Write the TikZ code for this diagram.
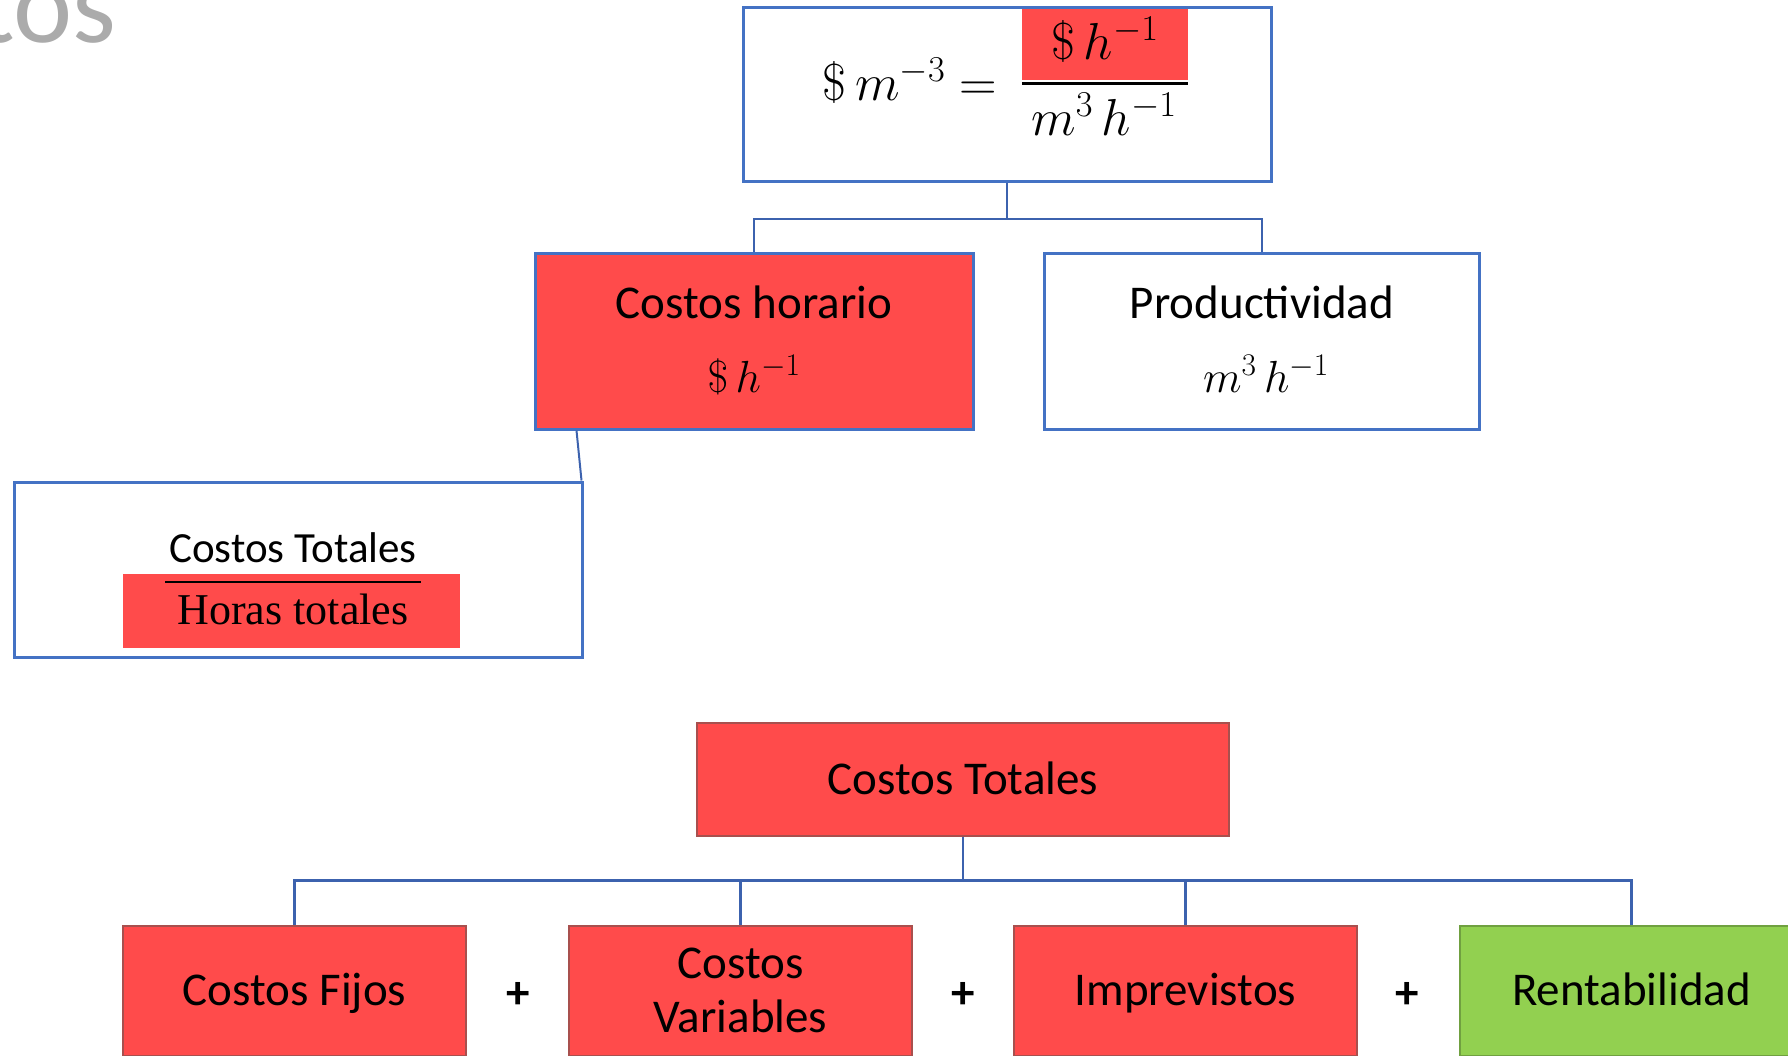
\RequirePackage{fix-cm}
\documentclass[tikz,border=0pt]{standalone}
\usepackage{fontspec}
\setmainfont{Carlito}
\newfontfamily\serifface{Liberation Serif}
\usetikzlibrary{calc}

\definecolor{boxblue}{HTML}{4472C4}
\definecolor{linkblue}{HTML}{3C62AE}
\definecolor{hotred}{HTML}{FF4B4B}
\definecolor{rededge}{HTML}{A8504E}
\definecolor{leafgreen}{HTML}{92D050}
\definecolor{greenedge}{HTML}{70A040}
\definecolor{titlegray}{HTML}{ABABAB}

\begin{document}
\begin{tikzpicture}[x=1pt,y=-1pt,
  font=\fontsize{47}{56}\selectfont,
  every node/.style={inner sep=0pt},
  outlined/.style={draw=boxblue, line width=3pt},
  mathbig/.style={font=\fontsize{52}{60}\selectfont},
  mathmid/.style={font=\fontsize{45}{54}\selectfont},
  tile/.style={fill=hotred, draw=rededge, line width=1.2pt,
    minimum width=343pt, minimum height=130pt, align=center},
  link/.style={draw=linkblue, line width=2pt},
]
\path[use as bounding box] (0,0) rectangle (1788,1055);
\clip (0,0) rectangle (1788,1055);

% slide title, mostly outside the page
\node[titlegray, anchor=base east, font=\fontsize{112}{120}\selectfont] (title) at (117,42) {Costos};

% ---- cost per cubic metre ----
\node[outlined, minimum width=528pt, minimum height=174pt] (top) at (1007,94) {};
\node[fill=hotred, minimum width=166pt, minimum height=71pt] (numbg) at (1105,44.5) {};
\node[mathbig, anchor=base] (num) at (1105,59) {$\$\,h^{-1}$};
\draw[line width=3pt] ([yshift=-3pt]numbg.south west) -- ([yshift=-3pt]numbg.south east);
\node[mathbig, anchor=base] (den) at (1104,135) {$m^{3}\,h^{-1}$};
\node[mathbig, anchor=base] (lhs) at (910,100) {$\$\,m^{-3} =$};

% ---- hourly cost and productivity ----
\node[outlined, fill=hotred, minimum width=438pt, minimum height=176pt] (ch) at (754,341) {};
\node[anchor=base] (chtext) at (754,318) {Costos horario};
\node[mathmid, anchor=base] (chunit) at (754,392) {$\$\,h^{-1}$};

\node[outlined, minimum width=435pt, minimum height=176pt] (pr) at (1262,341) {};
\node[anchor=base] (prtext) at (1262,318) {Productividad};
\node[mathmid, anchor=base] (prunit) at (1266,392) {$m^{3}\,h^{-1}$};

\draw[link] (top.south) -- ++(0,36) -| (ch.north);
\draw[link] (top.south) -- ++(0,36) -| (pr.north);

% ---- total cost over total hours ----
\node[outlined, minimum width=568pt, minimum height=175pt] (ctl) at (298,569.5) {};
\node[fill=hotred, minimum width=337pt, minimum height=74pt] (hbg) at (291.5,611) {};
\node[anchor=base, font=\fontsize{43}{50}\selectfont] (cttext) at (293,562) {Costos Totales};
\draw[line width=2.5pt] (165,582) -- (421,582);
\node[anchor=base, font=\serifface\fontsize{44}{50}\selectfont] (httext) at (293,624) {Horas totales};

\draw[link] ([xshift=43pt]ch.south west) -- ([xshift=-2pt]ctl.north east);

% ---- breakdown of total cost ----
\node[fill=hotred, draw=rededge, line width=1.2pt, minimum width=532pt, minimum height=113pt] (ct) at (963,779.5) {};
\node[anchor=base] (cttitle) at (963,794) {Costos Totales};

\node[tile] (cf) at (294.5,991) {};
\node[anchor=base] (cftext) at (294.5,1005) {Costos Fijos};
\node[tile] (cv) at (740.5,991) {};
\node[anchor=base] (cvtop) at (740.5,978) {Costos};
\node[anchor=base] (cvbot) at (740.5,1032) {Variables};
\node[tile] (im) at (1185.5,991) {};
\node[anchor=base] (imtext) at (1185.5,1005) {Imprevistos};
\node[tile, fill=leafgreen, draw=greenedge] (re) at (1631.5,991) {};
\node[anchor=base] (retext) at (1631.5,1005) {Rentabilidad};

\node[font=\bfseries\fontsize{47}{56}\selectfont] (p1) at (518,995) {+};
\node[font=\bfseries\fontsize{47}{56}\selectfont] (p2) at (963,995) {+};
\node[font=\bfseries\fontsize{47}{56}\selectfont] (p3) at (1407,995) {+};

\draw[link, line width=2.5pt] (ct.south) -- ++(0,44) -| (cf.north);
\draw[link, line width=2.5pt] (ct.south) -- ++(0,44) -| (cv.north);
\draw[link, line width=2.5pt] (ct.south) -- ++(0,44) -| (im.north);
\draw[link, line width=2.5pt] (ct.south) -- ++(0,44) -| (re.north);
\end{tikzpicture}
\end{document}
